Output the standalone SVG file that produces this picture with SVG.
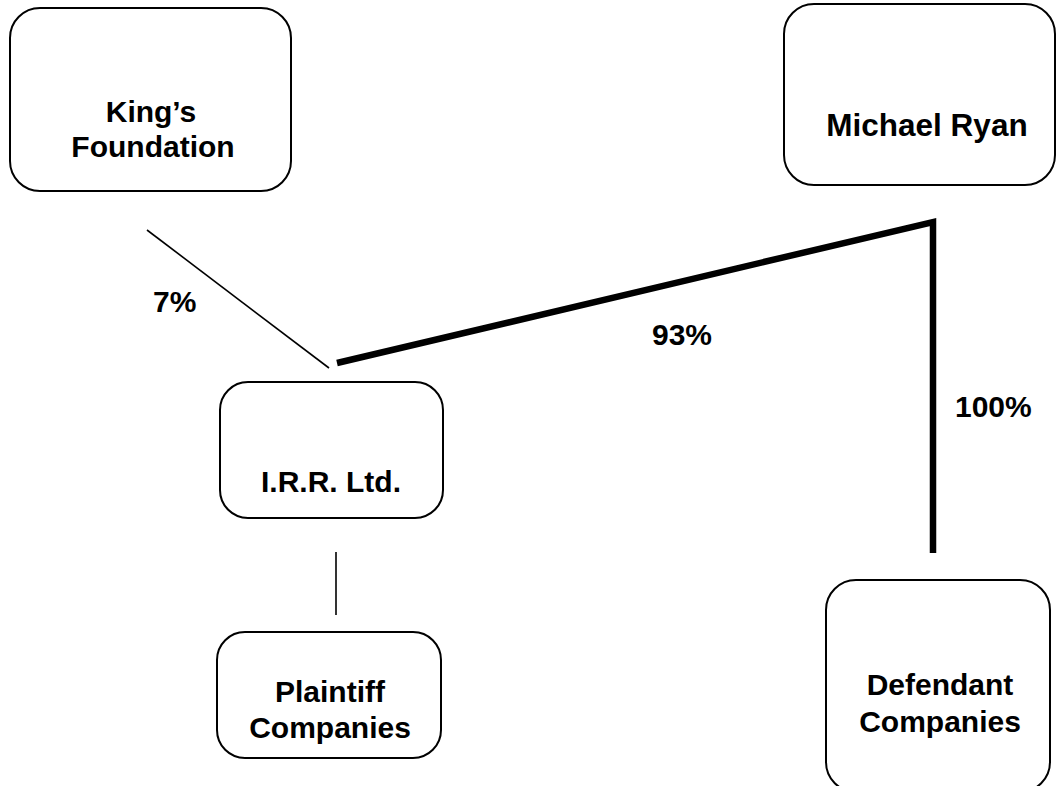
<svg xmlns="http://www.w3.org/2000/svg" width="1057" height="786" viewBox="0 0 1057 786">
<style>
.box{fill:#fff;stroke:#000;stroke-width:2}
.t{font-family:"Liberation Sans",Arial,sans-serif;font-weight:bold;font-size:30px;fill:#000;text-anchor:middle}
.lbl{font-family:"Liberation Sans",Arial,sans-serif;font-weight:bold;font-size:30px;fill:#000}
.thin{fill:none;stroke:#000;stroke-width:1.6}
.thick{fill:none;stroke:#000;stroke-width:6.5;stroke-linejoin:miter;stroke-linecap:butt}
</style>
<rect width="1057" height="786" fill="#fff"/>
<g id="connectors">
<line class="thin" x1="147" y1="230" x2="329" y2="368"/>
<polyline class="thick" points="337,363 933,222 933,553"/>
<line class="thin" x1="336" y1="552" x2="336" y2="615"/>
<text class="lbl" x="153" y="312">7%</text>
<text class="lbl" x="652" y="345">93%</text>
<text class="lbl" x="955" y="417">100%</text>
</g>
<g id="kings-foundation">
<rect class="box" x="10" y="8" width="281" height="183" rx="30"/>
<text class="t" x="151" y="122">King’s</text>
<text class="t" x="153" y="157">Foundation</text>
</g>
<g id="michael-ryan">
<rect class="box" x="784" y="4" width="271" height="181" rx="30"/>
<text class="t" x="927" y="136" style="font-size:31.5px">Michael Ryan</text>
</g>
<g id="irr-ltd">
<rect class="box" x="220" y="382" width="223" height="136" rx="28"/>
<text class="t" x="331" y="492">I.R.R. Ltd.</text>
</g>
<g id="plaintiff-companies">
<rect class="box" x="217" y="632" width="224" height="126" rx="28"/>
<text class="t" x="330" y="702">Plaintiff</text>
<text class="t" x="330" y="738">Companies</text>
</g>
<g id="defendant-companies">
<rect class="box" x="826" y="580" width="224" height="212" rx="30"/>
<text class="t" x="940" y="695">Defendant</text>
<text class="t" x="940" y="732">Companies</text>
</g>
</svg>
